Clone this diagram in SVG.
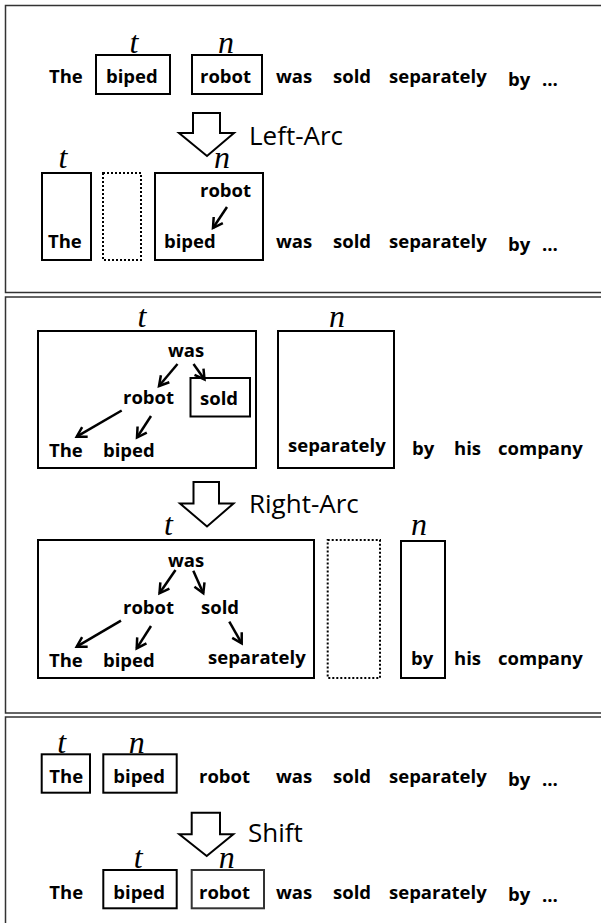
<svg xmlns="http://www.w3.org/2000/svg" width="601" height="923" viewBox="0 0 601 923">
<style>
.w{font-family:"Open Sans","Liberation Sans",sans-serif;font-weight:bold;font-size:18.5px;fill:#000}
.lab{font-family:"Liberation Serif",serif;font-style:italic;font-size:32px;text-anchor:middle;fill:#000}
.op{font-family:"Open Sans","Liberation Sans",sans-serif;font-size:26px;fill:#000}
.box{fill:none;stroke:#000;stroke-width:2}
.dot{fill:none;stroke:#000;stroke-width:2;stroke-dasharray:2 2}
.frame{fill:none;stroke:#333;stroke-width:1.5}
.dep{fill:none;stroke:#000;stroke-width:2.5;marker-end:url(#ah)}
.big{fill:#fff;stroke:#000;stroke-width:2;stroke-linejoin:miter}
</style>
<defs>
<marker id="ah" markerUnits="userSpaceOnUse" markerWidth="16" markerHeight="16" viewBox="-12 -8 16 16" refX="0" refY="0" orient="auto">
<path d="M-9.5,-5.5 L0,0 L-9.5,5.5" fill="none" stroke="#000" stroke-width="2.5"/>
</marker>
</defs>
<g id="frames">
<rect class="frame" x="5.5" y="5.5" width="600" height="287"/>
<rect class="frame" x="5.5" y="297" width="600" height="416"/>
<rect class="frame" x="5.5" y="717" width="600" height="220"/>
</g>
<g id="panel1">
<g id="p1-top">
<text class="lab" x="134" y="53">t</text>
<text class="lab" x="226" y="53">n</text>
<rect class="box" x="96" y="55" width="74" height="39"/>
<rect class="box" x="192" y="55" width="70" height="39"/>
<text class="w" x="49" y="83">The</text>
<text class="w" x="106" y="83">biped</text>
<text class="w" x="200" y="83">robot</text>
<text class="w" x="276" y="83">was</text>
<text class="w" x="333" y="83">sold</text>
<text class="w" x="389" y="83">separately</text>
<text class="w" x="508" y="85.5">by</text>
<text class="w" x="542" y="86">…</text>
</g>
<g id="p1-op">
<polygon class="big" points="193,113 220,113 220,133 234,133 207,156 179,133 193,133"/>
<text class="op" x="249" y="145">Left-Arc</text>
</g>
<g id="p1-bottom">
<text class="lab" x="63" y="168">t</text>
<text class="lab" x="222" y="168">n</text>
<rect class="box" x="42" y="173" width="49" height="87"/>
<rect class="dot" x="103" y="173" width="38" height="87"/>
<rect class="box" x="155" y="173" width="108" height="87"/>
<text class="w" x="200" y="197">robot</text>
<text class="w" x="48" y="248">The</text>
<text class="w" x="164" y="248">biped</text>
<text class="w" x="276" y="248">was</text>
<text class="w" x="333" y="248">sold</text>
<text class="w" x="389" y="248">separately</text>
<text class="w" x="508" y="250.5">by</text>
<text class="w" x="542" y="251">…</text>
</g>
</g>
<g id="panel2">
<g id="p2-top">
<text class="lab" x="142" y="327">t</text>
<text class="lab" x="337" y="327">n</text>
<rect class="box" x="38" y="331" width="218" height="137"/>
<rect class="box" x="278" y="331" width="116" height="137"/>
<rect class="box" x="190.5" y="378" width="59.5" height="38.5"/>
<text class="w" x="168" y="357">was</text>
<text class="w" x="123" y="404">robot</text>
<text class="w" x="200" y="405">sold</text>
<text class="w" x="49" y="457">The</text>
<text class="w" x="103" y="457">biped</text>
<text class="w" x="288" y="452">separately</text>
<text class="w" x="412" y="455">by</text>
<text class="w" x="454" y="455">his</text>
<text class="w" x="498" y="455">company</text>
</g>
<g id="p2-op">
<polygon class="big" points="193.5,482 219,482 219,503.5 233.5,503.5 207,526.5 180,503.5 193.5,503.5"/>
<text class="op" x="249" y="513">Right-Arc</text>
</g>
<g id="p2-bottom">
<text class="lab" x="168.5" y="535">t</text>
<text class="lab" x="419" y="535">n</text>
<rect class="box" x="38" y="540" width="276" height="138"/>
<rect class="dot" x="327.7" y="540" width="52.3" height="138"/>
<rect class="box" x="401" y="541" width="44" height="137"/>
<text class="w" x="168" y="567">was</text>
<text class="w" x="123" y="614">robot</text>
<text class="w" x="201" y="614">sold</text>
<text class="w" x="49" y="666.5">The</text>
<text class="w" x="103" y="666.5">biped</text>
<text class="w" x="208" y="663.5">separately</text>
<text class="w" x="411" y="665">by</text>
<text class="w" x="454" y="665">his</text>
<text class="w" x="498" y="665">company</text>
</g>
</g>
<g id="panel3">
<g id="p3-top">
<text class="lab" x="61.7" y="753">t</text>
<text class="lab" x="136.7" y="753">n</text>
<rect class="box" x="41.7" y="754.3" width="48.3" height="38.4"/>
<rect class="box" x="103.3" y="754.3" width="73.4" height="38.4"/>
<text class="w" x="49.3" y="783.3">The</text>
<text class="w" x="113.3" y="783.3">biped</text>
<text class="w" x="199" y="783.3">robot</text>
<text class="w" x="276" y="783.3">was</text>
<text class="w" x="333" y="783.3">sold</text>
<text class="w" x="389" y="783.3">separately</text>
<text class="w" x="508" y="785.5">by</text>
<text class="w" x="542" y="786">…</text>
</g>
<g id="p3-op">
<polygon class="big" points="191.7,812.7 220,812.7 220,834.3 233.3,834.3 206.7,856 179.3,834.3 191.7,834.3"/>
<text class="op" x="248" y="841.7">Shift</text>
</g>
<g id="p3-bottom">
<text class="lab" x="138.3" y="868">t</text>
<text class="lab" x="226.7" y="868">n</text>
<rect class="box" x="103.3" y="870" width="73.4" height="38.3"/>
<rect class="box" x="191.7" y="870" width="72.3" height="38.3" style="stroke:#333"/>
<text class="w" x="49.3" y="899">The</text>
<text class="w" x="113.3" y="899">biped</text>
<text class="w" x="199" y="899">robot</text>
<text class="w" x="276" y="899">was</text>
<text class="w" x="333" y="899">sold</text>
<text class="w" x="389" y="899">separately</text>
<text class="w" x="508" y="901">by</text>
<text class="w" x="542" y="901.5">…</text>
</g>
</g>
<g id="connectors">
<line class="dep" x1="227" y1="207" x2="213" y2="228"/>
<line class="dep" x1="177.5" y1="364" x2="159" y2="386"/>
<line class="dep" x1="193.5" y1="364" x2="204.5" y2="379.5"/>
<line class="dep" x1="121.7" y1="410.5" x2="76.7" y2="436.7"/>
<line class="dep" x1="151" y1="416" x2="137" y2="437.5"/>
<line class="dep" x1="175.5" y1="570" x2="159.5" y2="593.3"/>
<line class="dep" x1="193.3" y1="570.7" x2="203.3" y2="593.3"/>
<line class="dep" x1="121" y1="620.7" x2="76.7" y2="646.7"/>
<line class="dep" x1="151" y1="626" x2="136.7" y2="648.3"/>
<line class="dep" x1="229.3" y1="621.7" x2="241.7" y2="643.3"/>
</g>
</svg>
